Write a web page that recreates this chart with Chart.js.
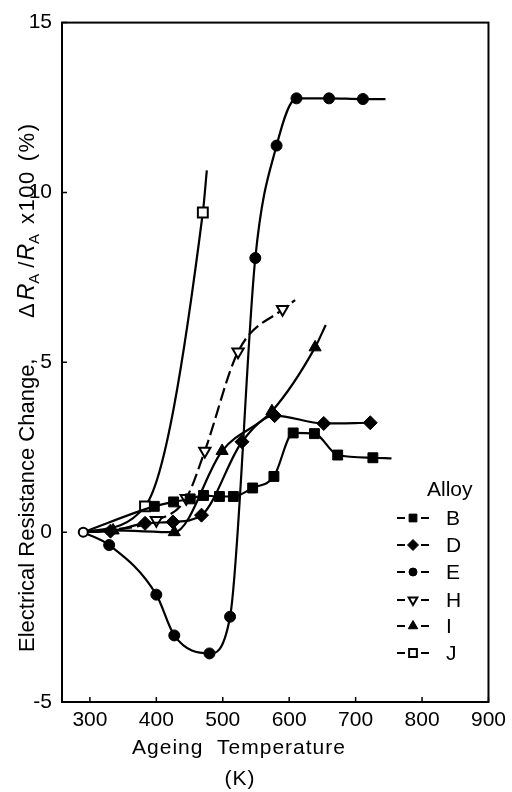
<!DOCTYPE html>
<html>
<head>
<meta charset="utf-8">
<script src="https://cdn.jsdelivr.net/npm/chart.js@4/dist/chart.umd.min.js"></script>
<style>
  html, body { margin: 0; padding: 0; background: #fff; }
  #wrap { width: 512px; height: 792px; }
</style>
</head>
<body>
<div id="wrap"><canvas id="ageingChart" width="512" height="792"></canvas></div>
<script>
// resistance change vs ageing temperature, one series per alloy
// first point of every series is the common as-quenched state (290 K, 0 %)
const alloys = ['B', 'D', 'E', 'H', 'I', 'J'];

const tempB = [290, 397, 426, 451, 471, 495, 516, 545, 577, 606, 638, 673, 726, 754];
const resB  = [0, 0.76, 0.89, 0.98, 1.08, 1.05, 1.05, 1.30, 1.64, 2.92, 2.90, 2.27, 2.19, 2.17];

const tempD = [290, 331, 383, 425, 468, 529, 578, 652, 722];
const resD  = [0, 0.03, 0.26, 0.30, 0.50, 2.66, 3.43, 3.20, 3.22];

const tempE = [290, 329, 400, 427, 480, 511, 549, 581, 611, 660, 711, 745];
const resE  = [0, -0.38, -1.84, -3.04, -3.57, -2.49, 8.07, 11.38, 12.77, 12.77, 12.75, 12.75];

const tempH = [290, 400, 445, 473, 523, 590, 609];
const resH  = [0, 0.35, 1.00, 2.39, 5.31, 6.56, 6.83];

const tempI = [290, 335, 427, 499, 574, 639, 655];
const resI  = [0, 0.05, 0, 2.39, 3.56, 5.44, 6.10];

const tempJ = [290, 383, 470, 476];
const resJ  = [0, 0.76, 9.41, 10.65];

// does the drawn curve run on past the last measured point?
const runsOn = [true, false, true, true, true, true];

const startT = 290, startR = 0;
const xTicks = [300, 400, 500, 600, 700, 800, 900];
const yTicks = [-5, 0, 5, 10, 15];

const temps = [tempB, tempD, tempE, tempH, tempI, tempJ];
const vals  = [resB, resD, resE, resH, resI, resJ];

const marker = {
  B: { pointStyle: 'rect',     radius: 7,   rotation: 0,   fill: '#000' },
  D: { pointStyle: 'rectRot',  radius: 7,   rotation: 0,   fill: '#000' },
  E: { pointStyle: 'circle',   radius: 5.5, rotation: 0,   fill: '#000' },
  H: { pointStyle: 'triangle', radius: 6.5, rotation: 180, fill: '#fff' },
  I: { pointStyle: 'triangle', radius: 7,   rotation: 0,   fill: '#000' },
  J: { pointStyle: 'rect',     radius: 7,   rotation: 0,   fill: '#fff' }
};

const FONT = '"Liberation Sans", Arial, sans-serif';

const datasets = alloys.map((name, i) => {
  const m = marker[name];
  const n = temps[i].length;
  return {
    label: name,
    data: temps[i].map((t, k) => ({ x: t, y: vals[i][k] })),
    borderColor: '#000',
    borderWidth: 2.2,
    borderDash: name === 'H' ? [13, 5] : [],
    cubicInterpolationMode: 'monotone',
    pointStyle: m.pointStyle,
    pointRotation: m.rotation,
    pointBackgroundColor: m.fill,
    pointBorderColor: '#000',
    pointBorderWidth: m.fill === '#fff' ? 2 : 1,
    pointRadius: ctx => (ctx.dataIndex === 0 || (runsOn[i] && ctx.dataIndex === n - 1)) ? 0 : m.radius,
    pointHoverRadius: 0,
    fill: false
  };
});

// open circle for the as-quenched starting state
datasets.push({
  label: 'start',
  data: [{ x: startT, y: startR }],
  showLine: false,
  pointStyle: 'circle',
  pointRadius: 4.5,
  pointBackgroundColor: '#fff',
  pointBorderColor: '#000',
  pointBorderWidth: 2,
  order: -1
});

const decor = {
  id: 'decor',
  afterDraw(chart) {
    const ctx = chart.ctx;
    const a = chart.chartArea;
    const xs = chart.scales.x, ys = chart.scales.y;
    ctx.save();
    ctx.strokeStyle = '#000';
    ctx.fillStyle = '#000';

    // frame
    ctx.lineWidth = 2;
    ctx.strokeRect(a.left, a.top, a.right - a.left, a.bottom - a.top);

    // inward tick marks
    ctx.lineWidth = 1.5;
    ctx.beginPath();
    xTicks.forEach(v => {
      const px = xs.getPixelForValue(v);
      ctx.moveTo(px, a.bottom); ctx.lineTo(px, a.bottom - 5);
    });
    yTicks.forEach(v => {
      const py = ys.getPixelForValue(v);
      ctx.moveTo(a.left, py); ctx.lineTo(a.left + 5, py);
    });
    ctx.stroke();

    // x title, two lines
    ctx.textAlign = 'center';
    ctx.textBaseline = 'middle';
    ctx.font = '21px ' + FONT;
    ctx.letterSpacing = '1px';
    ctx.fillText('Ageing  Temperature', 239, 748);
    ctx.fillText('(K)', 240, 779);
    ctx.letterSpacing = '0px';

    // y title: plain words, then the ratio with italic R and subscript A
    ctx.translate(26, 0);
    ctx.rotate(-Math.PI / 2);
    ctx.textAlign = 'left';
    ctx.textBaseline = 'alphabetic';
    ctx.font = '22px ' + FONT;
    ctx.fillText('Electrical Resistance Change,', -652, 8);
    const parts = [
      ['\u0394', '22px ' + FONT, 0, 3],
      ['R', 'italic 23px ' + FONT, 0, 0],
      ['A', '15px ' + FONT, 5, 6],
      ['/', '22px ' + FONT, 0, 1],
      ['R', 'italic 23px ' + FONT, 0, 0],
      ['A', '15px ' + FONT, 5, 10],
      ['x100', '22px ' + FONT, 0, 9],
      ['(%)', '22px ' + FONT, 0, 0]
    ];
    let py = 318;
    parts.forEach(p => {
      ctx.font = p[1];
      ctx.letterSpacing = p[0] === 'x100' || p[0] === '(%)' ? '1.5px' : '0px';
      ctx.fillText(p[0], -py, 8 + p[2]);
      py -= ctx.measureText(p[0]).width + p[3];
    });
    ctx.letterSpacing = '0px';
    ctx.setTransform(1, 0, 0, 1, 0, 0);

    // legend block in the lower right
    ctx.font = '21px ' + FONT;
    ctx.textAlign = 'left';
    ctx.textBaseline = 'middle';
    ctx.fillText('Alloy', 427, 490);
    const rows = [518, 545, 572, 600, 626, 653];
    alloys.forEach((name, i) => {
      const y = rows[i];
      const m = marker[name];
      ctx.lineWidth = 2;
      ctx.beginPath();
      ctx.moveTo(397, y); ctx.lineTo(405, y);
      ctx.moveTo(421, y); ctx.lineTo(429, y);
      ctx.stroke();
      ctx.fillStyle = m.fill;
      ctx.strokeStyle = '#000';
      ctx.lineWidth = m.fill === '#fff' ? 2 : 1;
      Chart.helpers.drawPoint(ctx, {
        pointStyle: m.pointStyle,
        radius: m.radius - 1.5,
        rotation: m.rotation,
        borderWidth: ctx.lineWidth
      }, 413, y);
      ctx.fillStyle = '#000';
      ctx.font = '21px ' + FONT;
      ctx.fillText(name, 446, y + 1);
    });
    ctx.restore();
  }
};

new Chart(document.getElementById('ageingChart'), {
  type: 'scatter',
  data: { datasets },
  options: {
    responsive: false,
    animation: false,
    showLine: true,
    layout: { padding: { top: 18, right: 14, left: 0, bottom: 0 } },
    plugins: { legend: { display: false }, tooltip: { enabled: false } },
    scales: {
      x: {
        type: 'linear',
        min: 258,
        max: 900,
        afterBuildTicks: s => { s.ticks = xTicks.map(v => ({ value: v })); },
        afterFit: s => { s.height = 90; },
        grid: { display: false, drawTicks: false },
        border: { display: false },
        ticks: { color: '#000', font: { family: FONT, size: 21 }, padding: 6, maxRotation: 0 }
      },
      y: {
        type: 'linear',
        min: -5,
        max: 15,
        afterBuildTicks: s => { s.ticks = yTicks.map(v => ({ value: v })); },
        afterFit: s => { s.width = 62; },
        grid: { display: false, drawTicks: false },
        border: { display: false },
        ticks: { color: '#000', font: { family: FONT, size: 21 }, padding: 10 }
      }
    }
  },
  plugins: [decor]
});
</script>
</body>
</html>
